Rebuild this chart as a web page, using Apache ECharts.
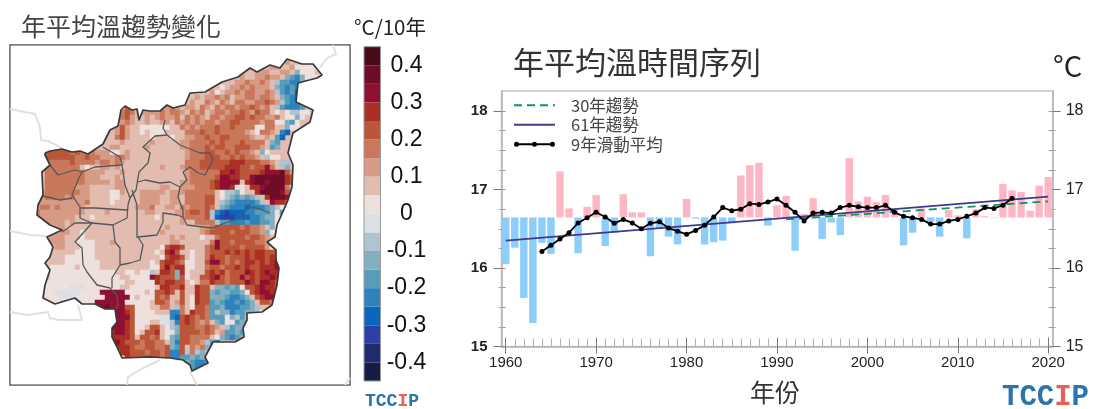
<!DOCTYPE html>
<html><head><meta charset="utf-8">
<style>html,body{margin:0;padding:0;background:#fff}#c{width:1093px;height:409px}</style>
<script src="https://cdn.jsdelivr.net/npm/echarts@6/dist/echarts.min.js"></script>
</head><body><div id="c"></div>
<script>
// ---- time series ----
const years=[1960,1961,1962,1963,1964,1965,1966,1967,1968,1969,1970,1971,1972,1973,1974,1975,1976,1977,1978,1979,1980,1981,1982,1983,1984,1985,1986,1987,1988,1989,1990,1991,1992,1993,1994,1995,1996,1997,1998,1999,2000,2001,2002,2003,2004,2005,2006,2007,2008,2009,2010,2011,2012,2013,2014,2015,2016,2017,2018,2019,2020];
const annualTemp=[16.05,16.26,15.62,15.30,16.32,16.18,17.23,16.76,16.19,16.78,16.93,16.28,16.45,16.94,16.71,16.71,16.15,16.50,16.40,16.30,16.88,16.63,16.30,16.33,16.35,16.57,17.18,17.31,17.34,16.54,16.80,16.92,16.22,16.69,16.89,16.37,16.58,16.42,17.40,16.85,16.91,16.84,16.93,16.69,16.29,16.45,16.76,16.59,16.40,16.74,16.67,16.38,16.75,16.66,16.65,17.07,16.99,16.97,16.73,17.05,17.16];
const meanTemp=16.645;
const smoothYears=[1964,1965,1966,1967,1968,1969,1970,1971,1972,1973,1974,1975,1976,1977,1978,1979,1980,1981,1982,1983,1984,1985,1986,1987,1988,1989,1990,1991,1992,1993,1994,1995,1996,1997,1998,1999,2000,2001,2002,2003,2004,2005,2006,2007,2008,2009,2010,2011,2012,2013,2014,2015,2016];
const smoothTemp=[16.21,16.29,16.37,16.45,16.575,16.64,16.71,16.65,16.57,16.62,16.575,16.50,16.57,16.59,16.51,16.47,16.43,16.48,16.545,16.65,16.77,16.73,16.75,16.82,16.81,16.84,16.88,16.80,16.71,16.60,16.70,16.71,16.70,16.77,16.80,16.78,16.77,16.77,16.80,16.71,16.66,16.64,16.62,16.56,16.56,16.60,16.62,16.66,16.70,16.77,16.76,16.80,16.89];
const trend61=[[1960,16.35],[2020,16.91]];
const trend30=[[1991,16.62],[2020,16.85]];
const decadeTicks=[1960,1970,1980,1990,2000,2010,2020];
const tempTicks=[15,16,17,18];
const tempMinor=[15.25,15.5,15.75,16.25,16.5,16.75,17.25,17.5,17.75];
// ---- map ----
const levelColors=['#171c47','#212c6f','#2a42a8','#0a67bd','#2f83bb','#579cb9','#84afc1','#aec4cf','#dcdfe3','#eee0dd','#e3bcb0','#d69a85','#c9785c','#bb5638','#ab2f24','#8f1030','#6e0c2a','#4a0a18'];
const levelEdges=[-0.45,-0.4,-0.35,-0.3,-0.25,-0.2,-0.15,-0.1,-0.05,0,0.05,0.1,0.15,0.2,0.25,0.3,0.35,0.4,0.45];
const barLabels=[-0.4,-0.3,-0.2,-0.1,0,0.1,0.2,0.3,0.4];
// each row: row number, then column:letters runs (a=coldest ... r=warmest)
const mapRows=[
'3 55:lkk','4 52:llkkljjjjj','5 49:lllkkllkgjjjkj','6 46:lkkllmllkgfegjjj','7 43:kkllmllmlkhffeeg','8 41:kjkllmlmlllkgfefe','9 39:kljkllmlmmllmlhfefd',
'10 36:klkllmlmkllmmlmmlkgfed','11 36:lkkmlkmlkmmllmmnmlhfee','12 23:nm 31:lmlkllkmlkmlmmlmmnmlmkhfeeef',
'13 22:mnmkllllmlmmlkmlmklmmlmmnmlnmmkjkjhhjjkk','14 22:mnlkklklmllmkmlmlkmmlmmnnmnmmllmkjjgjk','15 22:lmlkklkkllkmlmlmlmmlmmnnmmmmlmmjjgfjk',
'16 21:lnlkkjjjjjjkkmlmlmmmnmmnmmmmjjmmkkgjj','17 20:klnlkkjkjjjkkkkmmmnmmnmmmmmlkjmmlked','18 19:kkmnlkkkkjkkkjkkllmmnmmnnmmmmlkklkfd','19 19:kkklkkkkklkkkkkllmmmmnmnmmmnmmmmkgf','20 18:kkllkkkkklkkkkkkllmmmnmnnmmnnnmmlkfg',
'21 7:nnnnnmnmmmllljjklkkkkkkkkkkkkllm 35:lmmmnnmmnm 45:nmmlkgjkk','22 7:nnnnnnmmnmmlllmmlkkkkkkkkkkkkkkl 35:lmmmnnnmmn 45:mnmmlkhjj','23 7:mmmmmnmmmmlmmlmlkkkkkkkkkkkkkkkk 35:mmmnnnnnno 45:oonnnmmlkhh','24 7:mmmmmmmkjkkllklkkkkkkkklkkklkm 35:mmmnnnnnoo 45:onnmnnpmkhg',
'25 6:kmmmmmmmmllllkkklkkkkkkkkkkkk 35:lmmmmmmoop 45:onnnnopppqnlhg','26 6:kmmmmmmmmlllkkklkkkkkkkkkkkkk 35:lmmmmmnppo 45:onnpqqqqqqonh','27 6:kmmmmmmmmlllllkllkkkkkkkkkkkl 35:lmmmmnoppp 45:pkopqqpqqqonk','28 6:kmmmmmmlllkkkkkllkkkkkkkllkkl 35:llmmmnoppo 45:jjkoopqqqqmh',
'29 6:lmmmmmmmllkkkkjjlkkklllllklll 35:mmmmmmkjhh 45:gjkkoqqqqpng','30 6:lmmmmlmlllkkkkjjkkkkllllkkllk 35:mmmmnnkjhg 45:fgfghkoqqqpnh','31 5:llllllllllmkkkkjkkkkkllllkkllk 35:mmmmnnkhgf 45:eeeefhkpoonh','32 5:lmmlmlllllkkkkkkkkkklllmkkllkm 35:lmmmnmkgfe 45:eedeeefghjoh','33 5:mlllllllllkkkklkkkkkkkllkkkkll 35:mnnmnhedcd 45:ddeefffgjfg',
'34 6:lllllllkkkjkkkkkkkkkkkkjkkkkl 35:mmmmnhdccc 45:dddeefggjkj','35 7:llllklkkkkkkkkkkkkkkkkkkkkkl 35:kkmmmmhffe 45:eefeeffgjkj',
'36 8:kllkkkkkkkkkkkkkkkk 25:kkkkkklkkk 35:kkkllmnnnn 45:nmnmmlkgjj','37 9:lllkkjkkkkkkkkkkkk 25:kkkkklkkkk 35:kkklmnnnnm 45:nnnmmlgjk','38 8:lllkkkjkkkkkkkkkk 25:kkkkkkklkl 35:kkkjkkmnnn 45:nnmnnmlkj','39 8:lllkkjjjjkkklkkkkk 25:kkkkkkkllk 35:kkkkkmpnnm 45:nnnnmmlkj',
'40 8:kllkkkjjjkkkkkkkkk 25:kkkkkjnoon 35:kkkkmnpnnn 45:nmnnnnljk','41 8:kkkkkjjjjkkkkkkkkk 25:kkkkjkopnk 35:kjkkmnnnon 45:ononoonnn','42 8:kkkjjjjjjkkkkkkkkk 25:kkkkkjnoon 35:kjkkmonnmn 45:nnonoonon','43 7:kkkkjjjjjjjkkkkkkkl 25:kkkjknoonm 35:jjkknppnmn 45:mnoononopo','44 8:jjjjjkjjjjkkkkkkkk 25:kkkjjnpnoo 35:jjkkmnnmnn 45:ononnooopon',
'45 8:jjjjjjjjjjjjjkkjjj 25:kjjhkoongo 35:jkkknonomn 45:nnponopoopn','46 8:jjjjjjjjjjjjjjkkjj 25:jjjponnngn 35:jkknnopnmn 45:npnonoopoon','47 7:jjjjjjjjjjjjjjjjkkj 25:jjjjonoonn 35:kjkmmonnmn 45:nnponpponm','48 7:jjjjjiiijjjjjjjkkjj 25:jjjjkoonno 35:kkonnkggfg 45:fjnnopoonm','49 7:jjiiiiijjjjpppppjjj 25:jjkjnnonkn 35:kkonngfggf 45:fgjnoppoonk','50 7:jjjiiijjjjjjpppppjj 25:kjjjnmnkkn 35:kjonngggfe 45:efgknopppmk',
'51 8:jj 13:jjjjppppppjjk 25:jjjknnmkln 35:kjonnfgfee 45:fefgknnmnj','52 18:pqpppnnj 25:jjjkkmmkhm 35:kjnnmffgee 45:effghkkmkj','53 21:ppon 25:jjjjkkkeem 35:konnmfhgge 45:ffgghjkj','54 21:pppn 25:jjjjjiiedn 35:onmnmfffjg 45:hfhjj','55 21:ppon 25:jjjkkiihen 35:onmlmkgfjj 45:fggh',
'56 20:pppon 25:jjknnkjhgn 35:nnmmnmlkhf 45:ggh','57 20:oppon 25:jknnokjign 35:nnnmnmklff 45:gfh','58 20:oooon 25:knnmnkjgfn 35:nmmmmkjgfe 45:fgg','59 21:ponn 25:nmnnmmkgen 35:nmmlhfe','60 21:ooon 25:mmnnmmngfn 35:kmlmg','61 22:oon 25:nnmnnmneen 35:hmhg','62 23:on 25:nnnnnmneef 35:fgfg','63 35:gfeef','64 36:fee'];
const outerBoundary=[[45,153],[50,151],[62,149],[72,152],[80,151],[88,154],[97,148],[103,144],[110,130],[118,126],[121,110],[125,106],[132,110],[137,109],[139,120],[143,110],[150,111],[160,111],[167,105],[173,108],[185,105],[190,93],[205,92],[222,82],[238,77],[250,68],[257,72],[270,65],[280,68],[287,59],[302,64],[313,64],[322,75],[317,78],[298,83],[296,102],[313,110],[310,122],[293,133],[288,153],[293,165],[292,187],[288,200],[285,207],[277,225],[275,237],[267,242],[276,250],[276,260],[279,268],[277,285],[272,305],[262,312],[247,313],[247,320],[243,328],[244,337],[235,342],[213,342],[205,357],[208,363],[192,371],[190,365],[183,360],[170,358],[150,357],[122,358],[117,347],[112,337],[112,328],[117,322],[115,309],[105,309],[95,304],[82,304],[75,298],[55,304],[43,298],[45,285],[50,270],[45,263],[50,257],[53,247],[47,237],[62,230],[50,225],[37,215],[38,205],[43,195],[42,172],[50,165],[45,155],[45,153]];
const innerBoundaries=[
[[103,147],[120,157],[122,165],[125,185],[130,198],[128,205],[127,218],[113,225],[92,223],[75,223],[62,232]],
[[50,165],[58,175],[75,170],[82,172],[95,167],[122,165]],
[[82,172],[78,180],[72,195],[80,207],[80,218],[92,223],[75,242],[82,248],[83,265],[87,272],[97,285],[110,288],[117,295],[118,305],[115,310]],
[[43,196],[60,200],[72,198]],
[[80,208],[95,208],[127,210]],
[[165,120],[163,128],[167,135],[155,136],[143,147],[150,153],[148,163],[139,172],[136,190],[130,198]],
[[167,135],[180,145],[185,147],[200,153],[210,153],[213,160],[205,175],[198,173],[190,167],[183,172],[187,180],[180,187],[178,197],[183,210],[183,217],[187,225],[203,227],[213,228],[225,223],[242,218],[247,207],[257,208],[270,213]],
[[138,182],[145,180],[160,183],[170,182],[180,187]],
[[132,190],[137,205],[137,238]],
[[113,225],[115,242],[120,248],[120,265],[112,278],[112,288]],
[[120,265],[130,263],[140,260],[143,245],[138,237],[157,235],[163,222],[163,213],[177,215],[183,217]]];
const outsideBorders=[
[[10,109],[35,114],[40,127],[41,140],[48,141],[62,148]],
[[10,231],[30,235],[47,236]],
[[10,312],[27,315],[48,312],[50,318],[58,320],[82,320],[78,305]],
[[127,385],[128,377],[143,368],[160,360]],
[[333,45],[336,54],[327,58],[320,68]],
[[190,372],[197,385]],
[[345,385],[350,378]]];
const frameCorners=[[10.8,45.8],[10.8,384.2],[349.2,384.2],[349.2,45.8],[10.8,45.8]];

const LETTERS='abcdefghijklmnopqr';
const cellMap=new Map();
mapRows.forEach(s=>{const parts=s.split(' ');const r=+parts[0];
  parts.slice(1).forEach(run=>{const [c0,letters]=run.split(':');
    [...letters].forEach((ch,i)=>{const k=LETTERS.indexOf(ch);const c=+c0+i;
      cellMap.set(c+'_'+r,[c,r,(levelEdges[k]+levelEdges[k+1])/2]);});});});
const cells=[...cellMap.values()];
const idx=[];for(let i=0;i<68;i++)idx.push(String(i));
const sans='"Liberation Sans",Arial,sans-serif', cjk='"Noto Sans CJK TC","Liberation Sans",sans-serif';
const hidden={show:false};
const polygon=(pts,fill,z)=>({type:'custom',xAxisIndex:1,yAxisIndex:1,silent:true,z,data:[0],clip:false,
  renderItem(p,api){return {type:'polygon',shape:{points:pts.map(q=>api.coord(q))},style:{fill}};}});
const series=[];
series.push({type:'heatmap',xAxisIndex:0,yAxisIndex:0,data:cells,itemStyle:{borderWidth:0},emphasis:{disabled:true},progressive:0,z:2});
series.push(polygon(outerBoundary,levelColors[10],1));
series.push(polygon(frameCorners.concat(outerBoundary,[frameCorners[0]]),'#fff',3));
const mapLine=(d,color,w,z)=>series.push({type:'line',xAxisIndex:1,yAxisIndex:1,data:d,showSymbol:false,symbol:'none',lineStyle:{color,width:w,join:'round'},z,silent:true});
outsideBorders.forEach(d=>mapLine(d,'#e0e0e0',2,4));
innerBoundaries.forEach(d=>mapLine(d,'#55585a',1.3,5));
mapLine(outerBoundary,'#3a3a3a',1.7,6);
// colour bar
series.push({type:'custom',xAxisIndex:2,yAxisIndex:2,silent:true,data:levelColors.map((c,i)=>[levelEdges[i],levelEdges[i+1],c]),
  renderItem(p,api){const a=api.coord([0,api.value(0)]),b=api.coord([1,api.value(1)]);
    return {type:'rect',shape:{x:a[0],y:b[1],width:b[0]-a[0],height:a[1]-b[1]},style:{fill:levelColors[p.dataIndex]}};}});
// annual bars
series.push({type:'custom',xAxisIndex:3,yAxisIndex:3,silent:true,z:1,data:years.map((y,i)=>[y,annualTemp[i]]),encode:{x:0,y:1},
  renderItem(p,api){const x=api.value(0),v=api.value(1);const a=api.coord([x,v]),b=api.coord([x,meanTemp]);const w=api.size([1,0])[0]*0.82;
    return {type:'rect',shape:{x:a[0]-w/2,y:Math.min(a[1],b[1]),width:w,height:Math.abs(a[1]-b[1])},style:{fill:v>=meanTemp?'#ffb6c4':'#8ccdfa'}};}});
series.push({name:'30年趨勢',type:'line',xAxisIndex:3,yAxisIndex:3,data:trend30,symbol:'none',z:3,lineStyle:{color:'#0a9a55',width:1.8,type:[8,5]},itemStyle:{color:'#0a9a55'}});
series.push({name:'61年趨勢',type:'line',xAxisIndex:3,yAxisIndex:3,data:trend61,symbol:'none',z:3,lineStyle:{color:'#3f3a90',width:1.6},itemStyle:{color:'#3f3a90'}});
series.push({name:'9年滑動平均',type:'line',xAxisIndex:3,yAxisIndex:3,data:smoothYears.map((y,i)=>[y,smoothTemp[i]]),symbol:'circle',symbolSize:5,z:4,lineStyle:{color:'#000',width:1.8},itemStyle:{color:'#000'}});

const grids=[
 {left:10,top:45,width:340,height:340,show:true,borderColor:'#555',borderWidth:1.5,backgroundColor:'#fff'},
 {left:10,top:45,width:340,height:340},
 {left:364,top:46.7,width:16.5,height:334.3,show:true,borderColor:'#999',borderWidth:1,z:5},
 {left:501.5,top:91,width:551.2,height:255.6,show:true,borderColor:'#c8c8c8',borderWidth:1.5}];
const tsX=(o)=>Object.assign({type:'value',gridIndex:3,position:'bottom',min:1959.53,max:2020.5,splitLine:hidden,axisLine:{show:true,lineStyle:{color:'#bdbdbd',width:1.5}},axisLabel:hidden},o);
const tsY=(o)=>Object.assign({type:'value',gridIndex:3,min:15,max:18.255,splitLine:hidden,axisLine:{show:true,lineStyle:{color:'#bdbdbd',width:1.5}},axisLabel:hidden},o);
const xAxis=[
 {type:'category',gridIndex:0,data:idx,show:false},
 {type:'value',gridIndex:1,min:10,max:350,show:false},
 {type:'value',gridIndex:2,min:0,max:1,show:false},
 tsX({axisTick:{show:true,customValues:decadeTicks,length:7,lineStyle:{color:'#777',width:1}},
      axisLabel:{show:true,customValues:decadeTicks,margin:9,fontSize:15,color:'#222',fontFamily:sans,formatter:v=>String(v)}}),
 tsX({axisTick:{show:true,inside:true,customValues:years,length:8,lineStyle:{color:'#b0b0b0',width:1}}}),
 tsX({axisTick:{show:true,inside:true,customValues:decadeTicks,length:9,lineStyle:{color:'#777',width:1}}})];
const yAxis=[
 {type:'category',gridIndex:0,data:idx,inverse:true,show:false},
 {type:'value',gridIndex:1,min:45,max:385,inverse:true,show:false},
 {type:'value',gridIndex:2,position:'right',min:-0.45,max:0.45,axisLine:hidden,splitLine:hidden,axisTick:hidden,
  axisLabel:{customValues:barLabels,align:'center',margin:26,fontSize:23,color:'#111',fontFamily:sans,formatter:v=>String(Math.round(v*10)/10)}}];
const lab={show:true,customValues:tempTicks,color:'#222',fontFamily:sans,formatter:v=>String(Math.round(v))};
['left','right'].forEach(side=>{
 yAxis.push(tsY({position:side,axisTick:{show:true,customValues:tempTicks,length:8,lineStyle:{color:'#777'}},axisLabel:Object.assign({},lab,{margin:side==='left'?14:13,fontSize:side==='left'?15:16,fontWeight:side==='left'?'bold':500})}));
 yAxis.push(tsY({position:side,axisTick:{show:true,customValues:tempMinor,length:3,lineStyle:{color:'#aaa'}}}));
 yAxis.push(tsY({position:side,axisTick:{show:true,inside:true,customValues:tempTicks.concat(tempMinor),length:4,lineStyle:{color:'#999'}}}));
});
const text=(t,x,y,size,fill)=>({type:'text',x,y,silent:true,style:{text:t,font:size+'px '+cjk,fill,verticalAlign:'middle'}});
const logo=(x,y,size)=>({type:'text',x,y,silent:true,style:{text:'{a|TCC}{b|I}{a|P}',verticalAlign:'middle',rich:{
  a:{font:'bold '+size+'px "Liberation Mono",monospace',fill:'#2a75ab'},b:{font:'bold '+size+'px "Liberation Mono",monospace',fill:'#e8605a'}}}});
const dot=x=>`M${x-2.5},2.5 a2.5,2.5 0 1,1 5,0 a2.5,2.5 0 1,1 -5,0 Z`;
const smoothIcon='path://M2,1.6 H39 V3.4 H2 Z '+dot(2.5)+' '+dot(20.5)+' '+dot(38.5);
const chart=echarts.init(document.getElementById('c'),null,{renderer:'canvas'});
chart.setOption({animation:false,backgroundColor:'#fff',grid:grids,xAxis,yAxis,series,
 visualMap:{show:false,type:'piecewise',seriesIndex:0,dimension:2,pieces:levelColors.map((c,i)=>({gte:levelEdges[i]-1e-9,lt:levelEdges[i+1]-1e-9,color:c}))},
 legend:{data:[{name:'30年趨勢',itemStyle:{opacity:0}},{name:'61年趨勢',itemStyle:{opacity:0}},{name:'9年滑動平均',icon:smoothIcon}],orient:'vertical',left:508,top:92,itemWidth:41,itemHeight:5,itemGap:3,
   selectedMode:false,textStyle:{fontFamily:cjk,fontSize:16.5,color:'#444',padding:[0,0,0,11]}},
 graphic:[
  text('年平均溫趨勢變化',21,26,25,'#444'),
  text('°C/10年',354,27,20.5,'#222'),
  text('年平均溫時間序列',513,62,31,'#333'),
  text('°C',1053,66,29,'#222'),
  text('年份',750,392,25,'#333'),
  logo(365,401,18),logo(1002,398,29)]
});
</script></body></html>
